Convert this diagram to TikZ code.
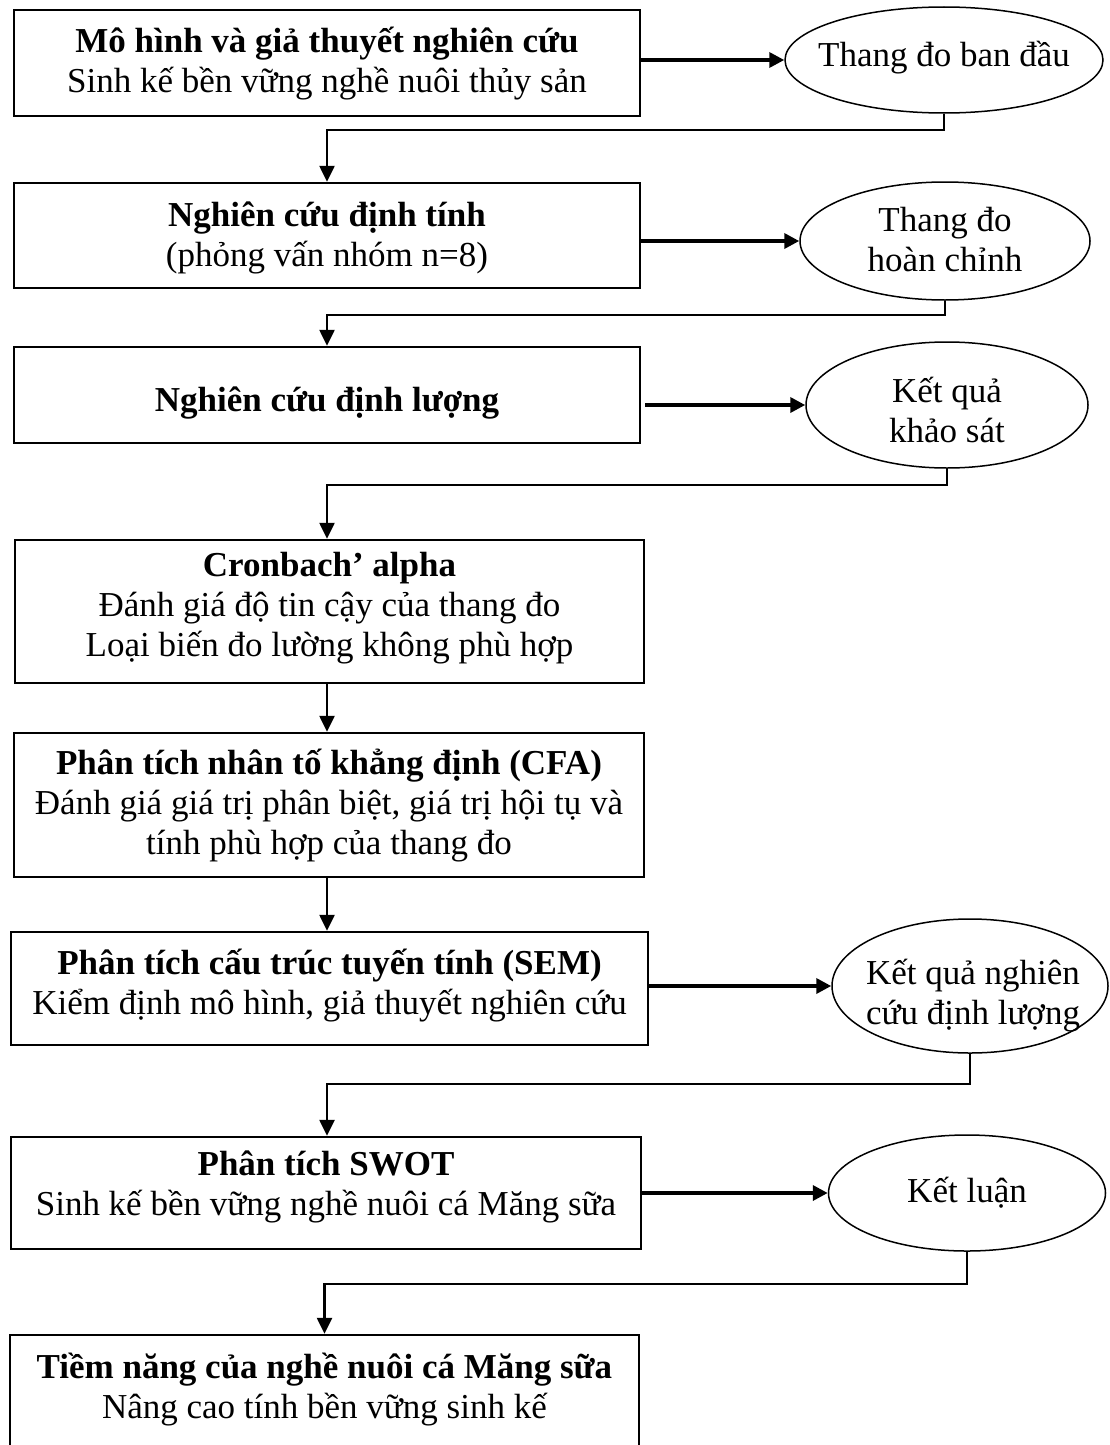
\documentclass[tikz,border=0pt]{standalone}
\usepackage{fontspec}
\setmainfont{Liberation Serif}
\usetikzlibrary{shapes.geometric,arrows.meta}
\begin{document}
\begin{tikzpicture}[x=1pt,y=-1pt,
  box/.style={draw,line width=2.4pt,inner sep=0pt,rectangle},
  oval/.style={draw,line width=1.5pt,ellipse,inner sep=0pt},
  txt/.style={font=\fontsize{35}{40}\selectfont,align=center,inner sep=0pt},
  harrow/.style={line width=3.5pt,-{Triangle[length=15pt,width=15pt]}},
  varrow/.style={line width=2.4pt,-{Triangle[length=16pt,width=15pt]}}]
\useasboundingbox (0,0) rectangle (1110,1445);
\clip (0,0) rectangle (1110,1445);
% boxes
\node[box,minimum width=626pt,minimum height=106pt] (b1) at (327,63) {};
\node[box,minimum width=626pt,minimum height=105pt] (b2) at (327,235.5) {};
\node[box,minimum width=626pt,minimum height=96pt] (b3) at (327,395) {};
\node[box,minimum width=629pt,minimum height=143pt] (b4) at (329.5,611.5) {};
\node[box,minimum width=630pt,minimum height=144pt] (b5) at (329,805) {};
\node[box,minimum width=637pt,minimum height=113pt] (b6) at (329.5,988.5) {};
\node[box,minimum width=630pt,minimum height=112pt] (b7) at (326,1193) {};
\node[box,minimum width=629pt,minimum height=130pt] (b8) at (324.5,1400) {};
% texts in boxes
\node[txt] (t1) at (327,64) {\textbf{Mô hình và giả thuyết nghiên cứu}\\Sinh kế bền vững nghề nuôi thủy sản};
\node[txt] (t2) at (327,238) {\textbf{Nghiên cứu định tính}\\(phỏng vấn nhóm n=8)};
\node[txt] (t3) at (327,403) {\textbf{Nghiên cứu định lượng}};
\node[txt] (t4) at (329.5,608) {\textbf{Cronbach’ alpha}\\Đánh giá độ tin cậy của thang đo\\Loại biến đo lường không phù hợp};
\node[txt] (t5) at (329,806) {\textbf{Phân tích nhân tố khẳng định (CFA)}\\Đánh giá giá trị phân biệt, giá trị hội tụ và\\tính phù hợp của thang đo};
\node[txt] (t6) at (329.5,986) {\textbf{Phân tích cấu trúc tuyến tính (SEM)}\\Kiểm định mô hình, giả thuyết nghiên cứu};
\node[txt] (t7) at (326,1187) {\textbf{Phân tích SWOT}\\Sinh kế bền vững nghề nuôi cá Măng sữa};
\node[txt] (t8) at (324.5,1390) {\textbf{Tiềm năng của nghề nuôi cá Măng sữa}\\Nâng cao tính bền vững sinh kế};
% ellipses
\node[oval,minimum width=318pt,minimum height=106pt] (e1) at (944,60) {};
\node[oval,minimum width=290pt,minimum height=118pt] (e2) at (945,241) {};
\node[oval,minimum width=282pt,minimum height=126pt] (e3) at (947,405) {};
\node[oval,minimum width=276pt,minimum height=134pt] (e6) at (970,986) {};
\node[oval,minimum width=277pt,minimum height=116pt] (e7) at (967,1193) {};
\node[txt] (u1) at (944,58) {Thang đo ban đầu};
\node[txt] (u2) at (945,240) {Thang đo\\hoàn chỉnh};
\node[txt] (u3) at (947,410) {Kết quả\\khảo sát};
\node[txt] (u6) at (973,996) {Kết quả nghiên\\cứu định lượng};
\node[txt] (u7) at (967,1193) {Kết luận};
% horizontal arrows
\draw[harrow] (b1.east |- e1.west) -- (e1.west);
\draw[harrow] (b2.east |- e2.west) -- (e2.west);
\draw[harrow] ([xshift=4pt]b3.east |- e3.west) -- (e3.west);
\draw[harrow] (b6.east |- e6.west) -- (e6.west);
\draw[harrow] (b7.east |- e7.west) -- (e7.west);
% vertical connectors
\draw[varrow] (e1.south) -- (e1.south |- 0,130) -| (b2.north);
\draw[varrow] (e2.south) -- (e2.south |- 0,315) -| (b3.north);
\draw[varrow] (e3.south) -- (e3.south |- 0,485) -| ([xshift=-2.5pt]b4.north);
\draw[varrow] ([xshift=-2.5pt]b4.south) -- ([xshift=-2pt]b5.north);
\draw[varrow] ([xshift=-2pt]b5.south) -- ([xshift=-2.5pt]b6.north);
\draw[varrow] (e6.south) -- (e6.south |- 0,1084) -| ([xshift=1pt]b7.north);
\draw[varrow] (e7.south) -- (e7.south |- 0,1284) -| (b8.north);
\end{tikzpicture}
\end{document}
